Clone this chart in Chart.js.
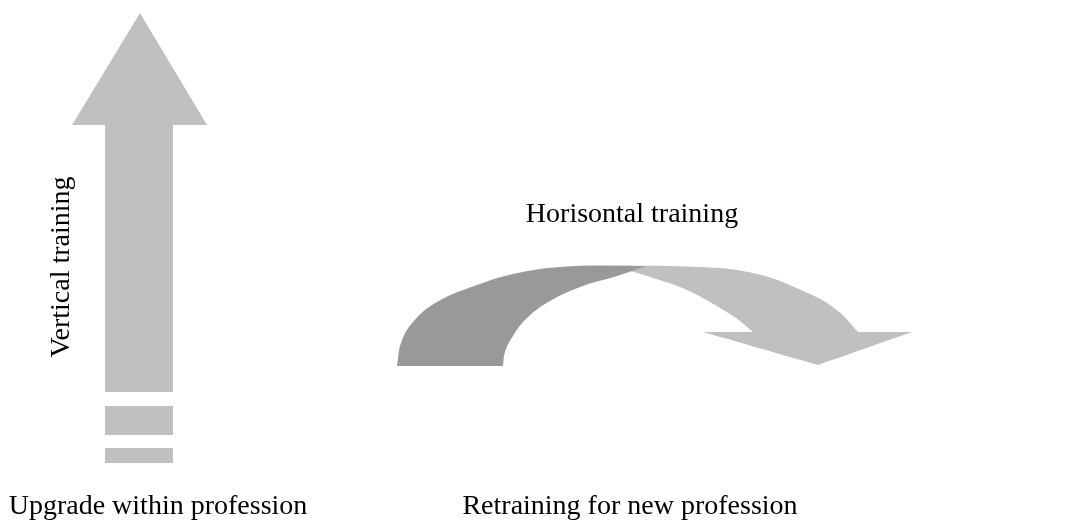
<!DOCTYPE html>
<html>
<head>
<meta charset="utf-8">
<script src="https://cdn.jsdelivr.net/npm/chart.js@4/dist/chart.umd.min.js"></script>
<style>
  html, body { margin: 0; padding: 0; background: #ffffff; }
  #wrap { width: 1076px; height: 526px; position: relative; }
</style>
</head>
<body>
<div id="wrap"><canvas id="c" width="1076" height="526"></canvas></div>
<script>
// ---- Data (in picture units) ----
// Vertical arrow (shaft + head)
const vArrowX = [140, 207, 173, 173, 105, 105, 72];
const vArrowY = [13, 125, 125, 392, 392, 125, 125];
// Dashed tail blocks under the vertical arrow
const block1X = [105, 173, 173, 105];
const block1Y = [406, 406, 435, 435];
const block2X = [105, 173, 173, 105];
const block2Y = [448, 448, 463, 463];
// Dark part of the curved arrow: outer arc (bottom-left to tip), then inner arc back down
const darkX = [397, 397, 401, 413, 437, 477, 520, 567, 625, 645, 645, 617, 583, 550, 527, 513, 505, 503];
const darkY = [366, 366, 343, 322, 302, 285, 272.5, 266.5, 265.8, 266.5, 266.5, 276, 286, 301, 318, 336, 352, 366];
// Light part of the curved arrow with arrow head
const lightX = [612, 612, 687, 753, 810, 838, 858, 858, 912, 912, 818, 818, 703, 703, 753, 753, 733, 687, 653, 634];
const lightY = [265.8, 265.8, 266.5, 273, 294, 311, 332, 332, 332, 332, 365, 365, 332, 332, 332, 332, 316, 290, 278, 272];
// Text labels
const labelTexts = ["Vertical training", "Horisontal training", "Upgrade within profession", "Retraining for new profession"];

function pts(xs, ys) { return xs.map((x, i) => ({ x: x, y: ys[i] })); }

const LIGHT = '#c0c0c0';
const DARK = '#999999';

function shape(xs, ys, color, tension) {
  return {
    data: pts(xs, ys),
    showLine: true,
    fill: 'shape',
    backgroundColor: color,
    borderColor: color,
    borderWidth: 0,
    pointRadius: 0,
    pointHoverRadius: 0,
    tension: tension
  };
}

// Label placement (positions kept outside the data arrays)
const labelPlacement = [
  { x: 69, y: 267, rotate: -Math.PI / 2 },
  { x: 632, y: 222, rotate: 0 },
  { x: 158, y: 514, rotate: 0 },
  { x: 630, y: 514, rotate: 0 }
];

const textPlugin = {
  id: 'textLabels',
  afterDatasetsDraw(chart) {
    const { ctx, scales } = chart;
    ctx.save();
    ctx.fillStyle = '#000000';
    ctx.font = '28px "Liberation Serif", "DejaVu Serif", serif';
    ctx.textAlign = 'center';
    ctx.textBaseline = 'alphabetic';
    labelTexts.forEach((t, i) => {
      const p = labelPlacement[i];
      const px = scales.x.getPixelForValue(p.x);
      const py = scales.y.getPixelForValue(p.y);
      ctx.save();
      ctx.translate(px, py);
      ctx.rotate(p.rotate);
      ctx.fillText(t, 0, 0);
      ctx.restore();
    });
    ctx.restore();
  }
};

new Chart(document.getElementById('c'), {
  type: 'scatter',
  data: {
    datasets: [
      shape(vArrowX, vArrowY, LIGHT, 0),
      shape(block1X, block1Y, LIGHT, 0),
      shape(block2X, block2Y, LIGHT, 0),
      shape(darkX, darkY, DARK, 0.4),
      shape(lightX, lightY, LIGHT, 0.4)
    ]
  },
  options: {
    responsive: false,
    animation: false,
    layout: { padding: 0 },
    elements: { line: { capBezierPoints: false } },
    plugins: {
      legend: { display: false },
      tooltip: { enabled: false },
      title: { display: false }
    },
    events: [],
    scales: {
      x: { type: 'linear', min: 0, max: 1076, display: false },
      y: { type: 'linear', min: 0, max: 526, reverse: true, display: false }
    }
  },
  plugins: [textPlugin]
});
</script>
</body>
</html>
